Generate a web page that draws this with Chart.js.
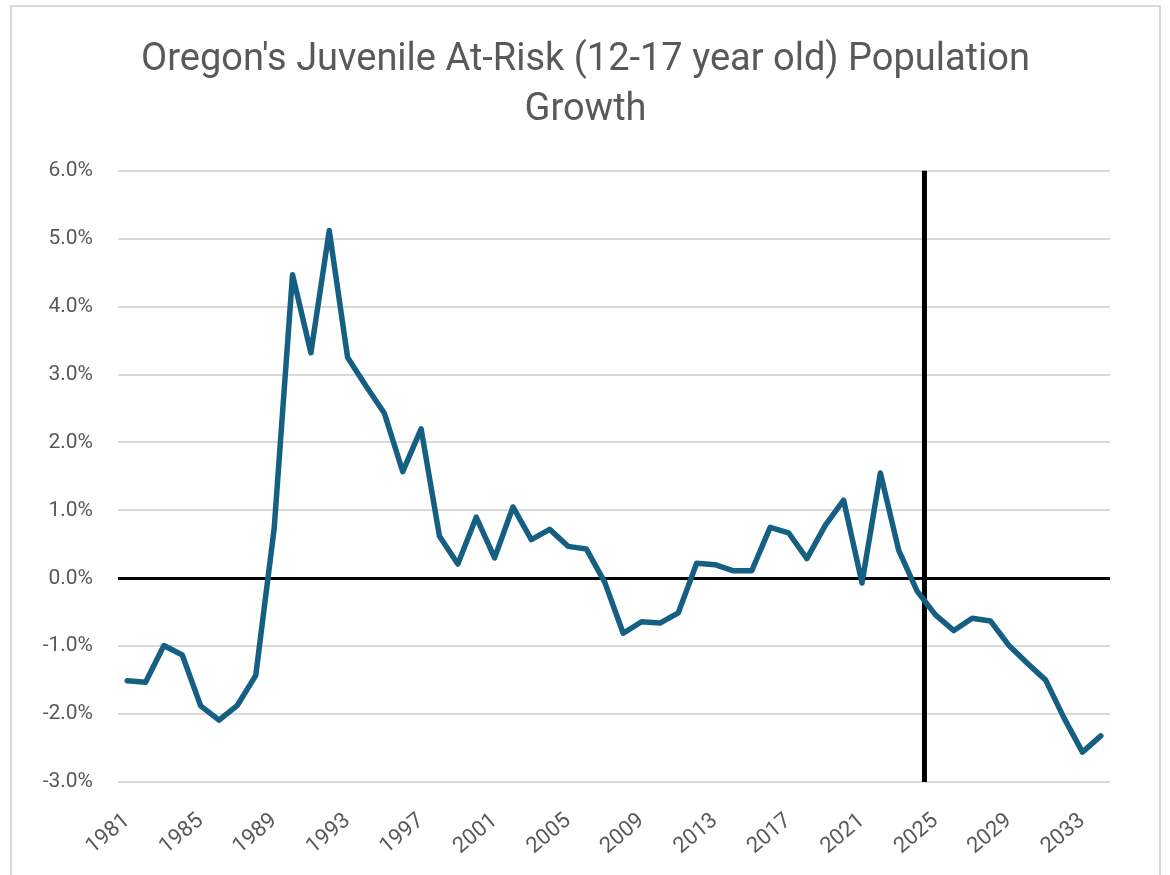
<!DOCTYPE html>
<html lang="en">
<head>
  <meta charset="UTF-8">
  <title>Oregon's Juvenile At-Risk Population Growth</title>
  <script src="https://cdn.jsdelivr.net/npm/chart.js"></script>
  <style>
    body {
      margin: 0;
      padding: 0;
      background-color: #ffffff;
    }
    .wrap {
      position: relative;
      width: 1170px;
      height: 875px;
    }
  </style>
</head>
<body>
  <div class="wrap">
    <canvas id="chart" width="1170" height="875"></canvas>
  </div>

  <script>
    const years = [
      1981, 1982, 1983, 1984, 1985, 1986, 1987, 1988, 1989, 1990,
      1991, 1992, 1993, 1994, 1995, 1996, 1997, 1998, 1999, 2000,
      2001, 2002, 2003, 2004, 2005, 2006, 2007, 2008, 2009, 2010,
      2011, 2012, 2013, 2014, 2015, 2016, 2017, 2018, 2019, 2020,
      2021, 2022, 2023, 2024, 2025, 2026, 2027, 2028, 2029, 2030,
      2031, 2032, 2033, 2034
    ];

    // growth in percent
    const growth = [
      -1.51, -1.53, -0.99, -1.13, -1.88, -2.09, -1.87, -1.43, 0.73, 4.47,
      3.32, 5.12, 3.25, 2.83, 2.43, 1.57, 2.20, 0.62, 0.21, 0.90,
      0.30, 1.05, 0.57, 0.72, 0.47, 0.43, -0.06, -0.81, -0.64, -0.66,
      -0.51, 0.22, 0.20, 0.11, 0.11, 0.75, 0.67, 0.29, 0.78, 1.15,
      -0.07, 1.55, 0.41, -0.19, -0.54, -0.77, -0.59, -0.63, -0.99, -1.25,
      -1.50, -2.06, -2.56, -2.32
    ];

    const tickYears = [1981, 1985, 1989, 1993, 1997, 2001, 2005, 2009, 2013, 2017, 2021, 2025, 2029, 2033];
    const yTicks = [-3, -2, -1, 0, 1, 2, 3, 4, 5, 6];

    // projection divider sits just before the 2025 tick
    const dividerAt = 2024.4;

    const fontFamily = "'Roboto', 'Liberation Sans', sans-serif";
    const textColor = '#595959';

    const dividerPlugin = {
      id: 'divider',
      beforeDraw(chart) {
        const ctx = chart.ctx;
        ctx.save();
        ctx.strokeStyle = '#d9d9d9';
        ctx.lineWidth = 2;
        ctx.strokeRect(11, 6, 1149, 900);
        ctx.restore();
      },
      beforeDatasetsDraw(chart) {
        const x = chart.scales.x;
        const area = chart.chartArea;
        const base = Math.floor(dividerAt) - years[0];
        const frac = dividerAt - Math.floor(dividerAt);
        const px = x.getPixelForValue(base) + frac * (x.getPixelForValue(base + 1) - x.getPixelForValue(base));
        const ctx = chart.ctx;
        ctx.save();
        ctx.strokeStyle = '#000000';
        ctx.lineWidth = 5;
        ctx.beginPath();
        ctx.moveTo(px, area.top);
        ctx.lineTo(px, area.bottom);
        ctx.stroke();
        ctx.restore();
      }
    };

    new Chart(document.getElementById('chart').getContext('2d'), {
      type: 'line',
      data: {
        labels: years,
        datasets: [{
          label: 'Growth',
          data: growth,
          borderColor: '#156082',
          borderWidth: 5.5,
          borderCapStyle: 'round',
          borderJoinStyle: 'round',
          pointRadius: 0,
          tension: 0,
          fill: false
        }]
      },
      options: {
        responsive: false,
        animation: false,
        layout: { padding: { left: 11, right: 10, top: 0, bottom: 0 } },
        plugins: {
          legend: { display: false },
          tooltip: { enabled: false },
          title: {
            display: true,
            text: ["Oregon's Juvenile At-Risk (12-17 year old) Population", 'Growth'],
            color: textColor,
            font: { family: fontFamily, size: 38, weight: 'normal', lineHeight: 1.3 },
            padding: { top: 36, bottom: 36 }
          }
        },
        scales: {
          x: {
            type: 'category',
            offset: true,
            grid: { display: false },
            border: { display: false },
            afterFit(scale) { scale.height = 93; },
            ticks: {
              autoSkip: false,
              maxRotation: 40,
              minRotation: 40,
              padding: 18,
              color: textColor,
              font: { family: fontFamily, size: 22 },
              callback(val, idx) {
                return tickYears.includes(years[idx]) ? String(years[idx]) : '';
              }
            }
          },
          y: {
            min: yTicks[0],
            max: yTicks[yTicks.length - 1],
            afterFit(scale) { scale.width = 107; },
            afterBuildTicks(scale) {
              scale.ticks = yTicks.map(v => ({ value: v }));
            },
            border: { display: false },
            grid: {
              drawTicks: false,
              color: c => c.tick.value === 0 ? '#000000' : '#d9d9d9',
              lineWidth: c => c.tick.value === 0 ? 3 : 2
            },
            ticks: {
              padding: 25,
              color: textColor,
              font: { family: fontFamily, size: 21 },
              callback: v => v.toFixed(1) + '%'
            }
          },
          // empty spacer so the plot ends where the reference does
          yRight: {
            position: 'right',
            min: 0,
            max: 1,
            afterFit(scale) { scale.width = 50; },
            grid: { display: false },
            border: { display: false },
            ticks: { display: false }
          }
        }
      },
      plugins: [dividerPlugin]
    });
  </script>
</body>
</html>
